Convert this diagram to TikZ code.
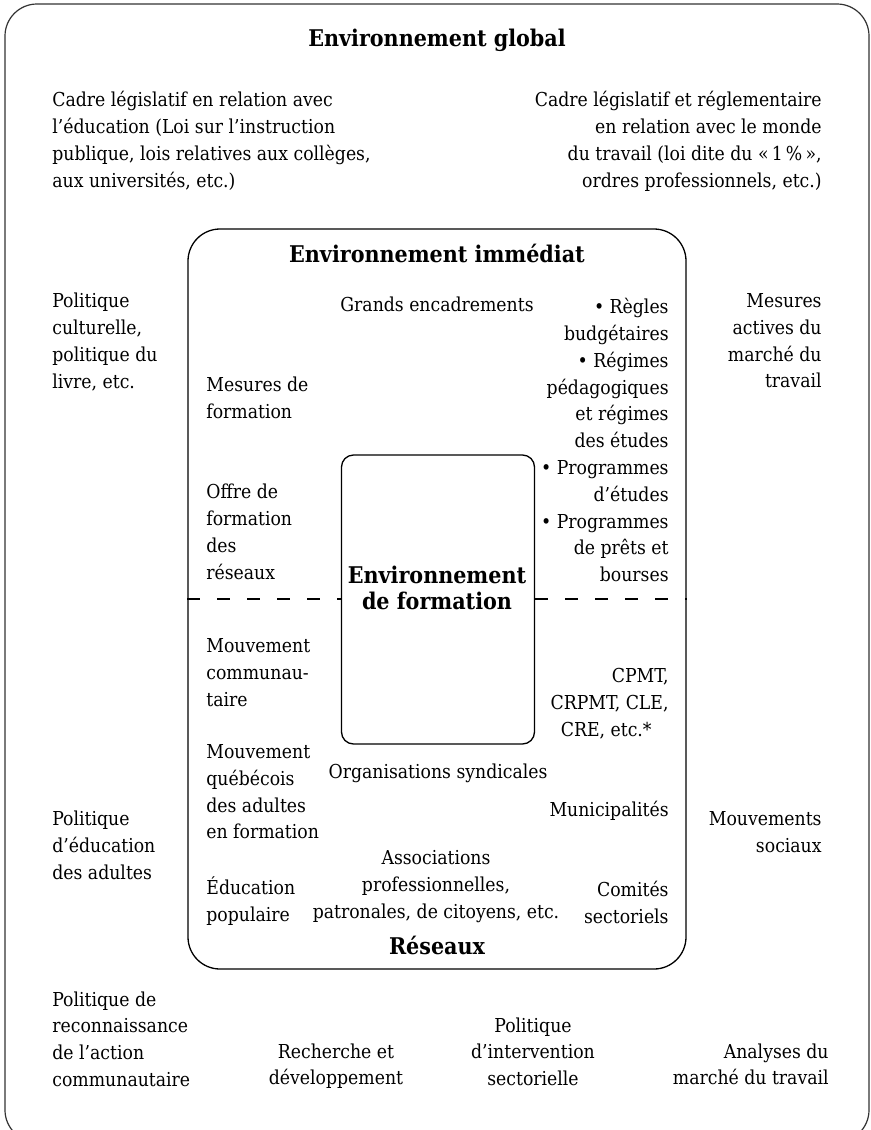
\documentclass[tikz,border=0pt]{standalone}
\usepackage{fontspec}
\setmainfont{DejaVu Serif Condensed}

\begin{document}
\begin{tikzpicture}[x=0.5pt,y=-0.5pt,
  txt/.style={inner sep=0pt,font=\fontsize{9.6}{13.4}\selectfont},
  lblock/.style={txt,align=left,anchor=north west},
  rblock/.style={txt,align=right,anchor=north east},
  cblock/.style={txt,align=center,anchor=north},
  heading/.style={cblock,font=\bfseries\fontsize{11.5}{12.8}\selectfont},
  frame/.style={draw,line width=0.65pt,rounded corners=#1}]
\def\xL{52}
\def\xR{822}
\def\xIL{206}
\def\xIR{669}
\useasboundingbox (0,0) rectangle (871,1130);
  %\draw[help lines,step=50] (0,0) grid (871,1130);
\begin{scope}
\clip (0,0) rectangle (871,1130);
\draw[frame=16pt,line width=0.6pt,black!80] (5,4) rectangle (869,1142);
\end{scope}
\node[frame=16pt,minimum width=249pt,minimum height=370pt] (immediat) at (437,599) {};
\node[frame=6pt,minimum width=96.5pt,minimum height=144.5pt] (formation) at (438,599.5) {};
\coordinate (dash) at (0,599);
\path
(437,29) node [heading] (global) {Environnement global}
(\xL,91) node [lblock] (cadreEduc) {Cadre législatif en relation avec\\l’éducation (Loi sur l’instruction\\publique, lois relatives aux collèges,\\aux universités, etc.)}
(\xR,91) node [rblock] (cadreTravail) {Cadre législatif et réglementaire\\en relation avec le monde\\du travail (loi dite du «\,1\,\%\,»,\\ordres professionnels, etc.)}
(\xL,293) node [lblock] (culture) {Politique\\culturelle,\\politique du\\livre, etc.}
(\xR,293) node [rblock] (mesuresActives) {Mesures\\actives du\\marché du\\travail}
(\xL,811) node [lblock] (eduAdultes) {Politique\\d’éducation\\des adultes}
(\xR,811) node [rblock] (mouvSociaux) {Mouvements\\sociaux}
(\xL,991) node [lblock] (reconnaissance) {Politique de\\reconnaissance\\de l’action\\communautaire}
(336,1043) node [cblock] (recherche) {Recherche et\\développement}
(533,1017) node [cblock] (intervention) {Politique\\d’intervention\\sectorielle}
(829,1043) node [rblock] (analyses) {Analyses du\\marché du travail}
;
\path
(437,244) node [heading] (immTitle) {Environnement immédiat}
(340,297) node [lblock] (grands) {Grands encadrements}
(\xIR,298) node [rblock] (regles) {• Règles\\budgétaires\\• Régimes\\pédagogiques\\et régimes\\des études\\• Programmes\\d’études\\• Programmes\\de prêts et\\bourses}
(\xIL,377) node [lblock] (mesures) {Mesures de\\formation}
(\xIL,484) node [lblock] (offre) {Offre de\\formation\\des\\réseaux}
(437,566) node [heading] (formTitle) {Environnement\\de formation}
(\xIL,638) node [lblock] (communau) {Mouvement\\communau-\\taire}
(\xIR,668) node [rblock] (cpmt) {CPMT,\\CRPMT, CLE,\\CRE, etc.*\hspace*{8.5pt}}
(\xIL,744) node [lblock] (quebecois) {Mouvement\\québécois\\des adultes\\en formation}
(438,764) node [cblock] (syndicales) {Organisations syndicales}
(\xIR,801) node [rblock] (municip) {Municipalités}
(436,850) node [cblock] (associations) {Associations\\professionnelles,\\patronales, de citoyens, etc.}
(\xIL,876) node [lblock] (populaire) {Éducation\\populaire}
(\xIR,881) node [rblock] (comites) {Comités\\sectoriels}
(437,936) node [heading] (reseaux) {Réseaux}
;
\begin{scope}[every path/.style={draw,line width=0.65pt,dash pattern=on 6.5pt off 8.5pt}]
\path (immediat.west |- dash) -- (formation.west |- dash);
\path (formation.east |- dash) -- (immediat.east |- dash);
\end{scope}
\end{tikzpicture}
\end{document}
